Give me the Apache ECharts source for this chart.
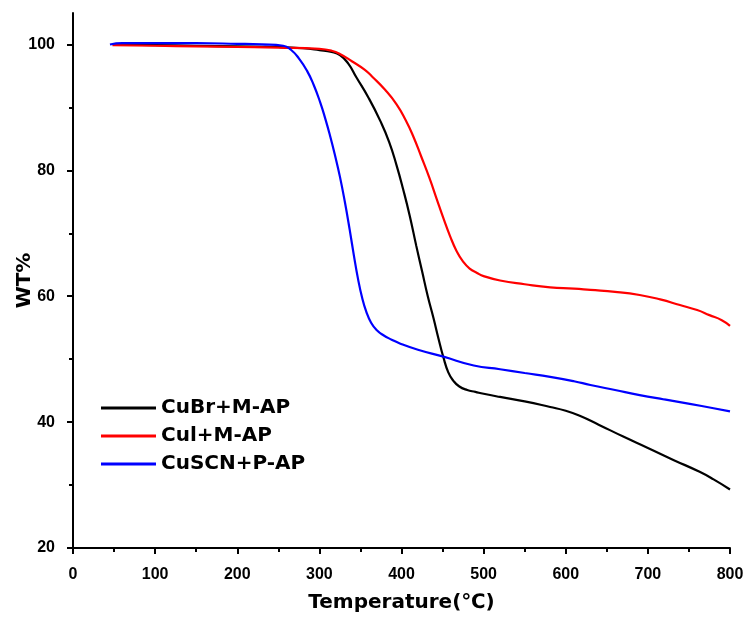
<!DOCTYPE html>
<html>
<head>
<meta charset="utf-8">
<script src="https://cdn.jsdelivr.net/npm/echarts@6/dist/echarts.min.js"></script>
<style>html,body{margin:0;padding:0;background:#fff}#c{width:749px;height:621px}</style>
</head>
<body>
<div id="c"></div>
<script>
const seriesNames = ['CuBr+M-AP', 'CuI+M-AP', 'CuSCN+P-AP'];
const legendLabels = ['CuBr+M-AP', 'Cul+M-AP', 'CuSCN+P-AP'];
const colors = ['#000000', '#ff0000', '#0000ff'];
const yMajorTicks = [20, 40, 60, 80, 100];
const yMinorTicks = [30, 50, 70, 90];

const cuBr = [[50,100],[100,99.9],[150,99.8],[200,99.7],[250,99.6],[280,99.4],[300,99.1],[315,98.8],[325,98.3],[335,97],[345,94.8],[360,91.5],[374,87.9],[385,84.5],[394,80.8],[402,77],[410,72.8],[418,68],[425,64],[432,60],[439,56.5],[445,53.3],[451,50.3],[457,47.9],[463,46.6],[470,45.7],[480,45.1],[490,44.8],[500,44.5],[520,44.0],[550,43.3],[581,42.4],[600,41.8],[617,41.0],[640,39.6],[670,37.7],[700,35.9],[731,34.0],[763,32.1],[780,30.9],[800,29.3]];

const cuI = [[48,99.9],[100,99.8],[150,99.7],[200,99.6],[250,99.5],[300,99.3],[315,99.0],[325,98.5],[340,97.3],[355,96],[365,94.8],[380,92.8],[394,90.5],[405,88],[414,85.5],[424,82.2],[434,78.8],[443,75.4],[451,72.4],[459,69.6],[467,67.2],[475,65.5],[483,64.4],[492,63.7],[500,63.2],[520,62.5],[550,61.9],[581,61.4],[610,61.2],[630,61.0],[660,60.7],[690,60.2],[715,59.5],[739,58.6],[760,57.8],[775,57.0],[790,56.2],[800,55.3]];

const cuSCN = [[45,100],[60,100.2],[100,100.2],[150,100.2],[200,100.1],[230,100],[256,99.8],[265,99.2],[275,97.8],[285,95.8],[293,93.6],[301,90.8],[307,88.3],[313,85.5],[319,82.4],[325,79],[331,75],[337,70.5],[342,66.5],[347,62.8],[352,59.8],[357,57.6],[363,55.8],[370,54.6],[378,53.8],[388,53.1],[398,52.5],[420,51.5],[451,50.4],[488,49.0],[520,48.4],[550,47.8],[581,47.2],[610,46.5],[630,45.9],[660,45.1],[690,44.3],[720,43.6],[751,42.9],[780,42.2],[800,41.7]];

const allData = [cuBr, cuI, cuSCN];

const chart = echarts.init(document.getElementById('c'), null, {renderer: 'canvas'});
const tickFont = 'Liberation Sans, Arial, sans-serif';
const titleFont = 'DejaVu Sans, sans-serif';
chart.setOption({
  animation: false,
  backgroundColor: '#fff',
  grid: {left: 73, right: 19, top: 13, bottom: 73, containLabel: false, outerBoundsMode: 'none'},
  legend: {
    orient: 'vertical', left: 96, top: 393,
    itemWidth: 55, itemHeight: 3, itemGap: 8,
    icon: 'rect',
    data: seriesNames,
    formatter: function (n) { return legendLabels[seriesNames.indexOf(n)]; },
    textStyle: {fontFamily: titleFont, fontWeight: 'bold', fontSize: 20, color: '#000'}
  },
  xAxis: {
    type: 'value', min: 0, max: 800, interval: 100,
    name: 'Temperature(℃)', nameLocation: 'middle', nameGap: 45, nameMoveOverlap: false,
    nameTextStyle: {fontFamily: titleFont, fontWeight: 'bold', fontSize: 20, color: '#000'},
    axisLine: {show: true, onZero: false, lineStyle: {color: '#000', width: 2}},
    axisTick: {show: true, inside: false, length: 6, lineStyle: {color: '#000', width: 2}},
    minorTick: {show: true, splitNumber: 2, length: 4, lineStyle: {color: '#000', width: 2}},
    axisLabel: {fontFamily: tickFont, fontWeight: 'bold', fontSize: 16, color: '#000', margin: 19},
    splitLine: {show: false}
  },
  yAxis: [{
    type: 'value', min: 20, max: 105, interval: 20,
    name: 'WT%', nameLocation: 'middle', nameGap: 38, nameRotate: 90, nameMoveOverlap: false,
    nameTextStyle: {fontFamily: titleFont, fontWeight: 'bold', fontSize: 20, color: '#000'},
    axisLine: {show: true, onZero: false, lineStyle: {color: '#000', width: 2}},
    axisTick: {show: true, inside: false, length: 6, customValues: yMajorTicks, lineStyle: {color: '#000', width: 2}},
    minorTick: {show: false},
    axisLabel: {fontFamily: tickFont, fontWeight: 'bold', fontSize: 16, color: '#000', margin: 18, customValues: yMajorTicks},
    splitLine: {show: false}
  }, {
    type: 'value', min: 20, max: 105, position: 'left', offset: 0,
    axisLine: {show: false},
    axisTick: {show: true, inside: false, length: 4, customValues: yMinorTicks, lineStyle: {color: '#000', width: 2}},
    axisLabel: {show: false},
    splitLine: {show: false}
  }],
  series: allData.map(function (d, i) {
    return {
      name: seriesNames[i], type: 'line', data: d, smooth: 0.5,
      showSymbol: false, symbol: 'none', yAxisIndex: 0,
      lineStyle: {color: colors[i], width: 2.2},
      itemStyle: {color: colors[i]}
    };
  })
});
</script>
</body>
</html>
